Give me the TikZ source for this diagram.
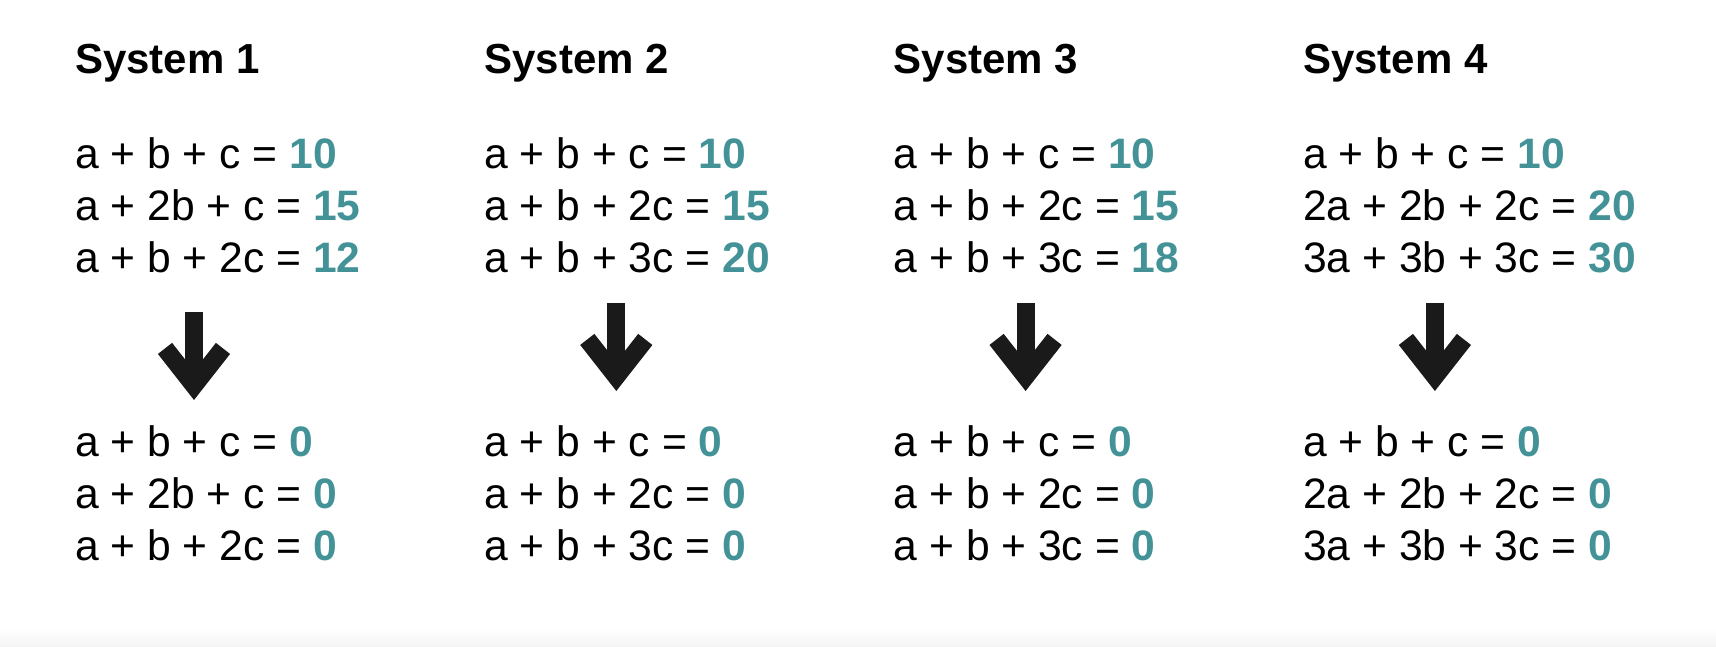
\documentclass[tikz,border=0pt]{standalone}
\usepackage{fontspec}
\setmainfont{Liberation Sans}
\usetikzlibrary{arrows.meta}

\definecolor{numteal}{RGB}{66,146,152}
\definecolor{arrowblack}{RGB}{26,26,26}
\newcommand\num[1]{{\color{numteal}\bfseries #1}}

\begin{document}
\begin{tikzpicture}[x=1pt,y=-1pt]
\def\colgap{409.3}; %Horizontal gap between systems
\def\leftx{75}; %Left edge of first system
\def\rowgap{52}; %Vertical gap between equations
\def\upy{168}; %Baseline of first equation, before
\def\downy{456}; %Baseline of first equation, after

\tikzstyle{systitle} = [anchor=base west, inner sep=0mm, font=\fontsize{42}{50}\selectfont\bfseries]
\tikzstyle{eqn} = [anchor=base west, inner sep=0mm, font=\fontsize{42.6}{50}\selectfont]
\tikzstyle{bigarrow} = [draw=arrowblack, line width=18pt, -{Straight Barb[sharp, length=37pt, width=58pt, line width=18pt]}]

\useasboundingbox (0,0) rectangle (1716,646);
\shade[top color=white, bottom color=black!4] (0,628) rectangle (1716,646);

\foreach \i/\ea/\eb/\ec/\na/\nb/\nc/\ax/\ay in {
 1/{a + b + c}/{a + 2b + c}/{a + b + 2c}/10/15/12/119/312,
 2/{a + b + c}/{a + b + 2c}/{a + b + 3c}/10/15/20/132/303,
 3/{a + b + c}/{a + b + 2c}/{a + b + 3c}/10/15/18/132/303,
 4/{a + b + c}/{2a + 2b + 2c}/{3a + 3b + 3c}/10/20/30/132/303}{
 \node[systitle] (sys\i) at ({\leftx+(\i-1)*\colgap},73) {System \i};

 \node[eqn] (up\i-1) at ({\leftx+(\i-1)*\colgap},\upy) {\ea{} = \num{\na}};
 \node[eqn] (up\i-2) at ({\leftx+(\i-1)*\colgap},\upy+\rowgap) {\eb{} = \num{\nb}};
 \node[eqn] (up\i-3) at ({\leftx+(\i-1)*\colgap},\upy+2*\rowgap) {\ec{} = \num{\nc}};

 \coordinate (from\i) at ({\leftx+(\i-1)*\colgap+\ax},\ay);
 \coordinate (to\i) at ({\leftx+(\i-1)*\colgap+\ax},\ay+88);
 \draw[bigarrow] (from\i) -- (to\i);

 \node[eqn] (down\i-1) at ({\leftx+(\i-1)*\colgap},\downy) {\ea{} = \num{0}};
 \node[eqn] (down\i-2) at ({\leftx+(\i-1)*\colgap},\downy+\rowgap) {\eb{} = \num{0}};
 \node[eqn] (down\i-3) at ({\leftx+(\i-1)*\colgap},\downy+2*\rowgap) {\ec{} = \num{0}};
}

\end{tikzpicture}
\end{document}
